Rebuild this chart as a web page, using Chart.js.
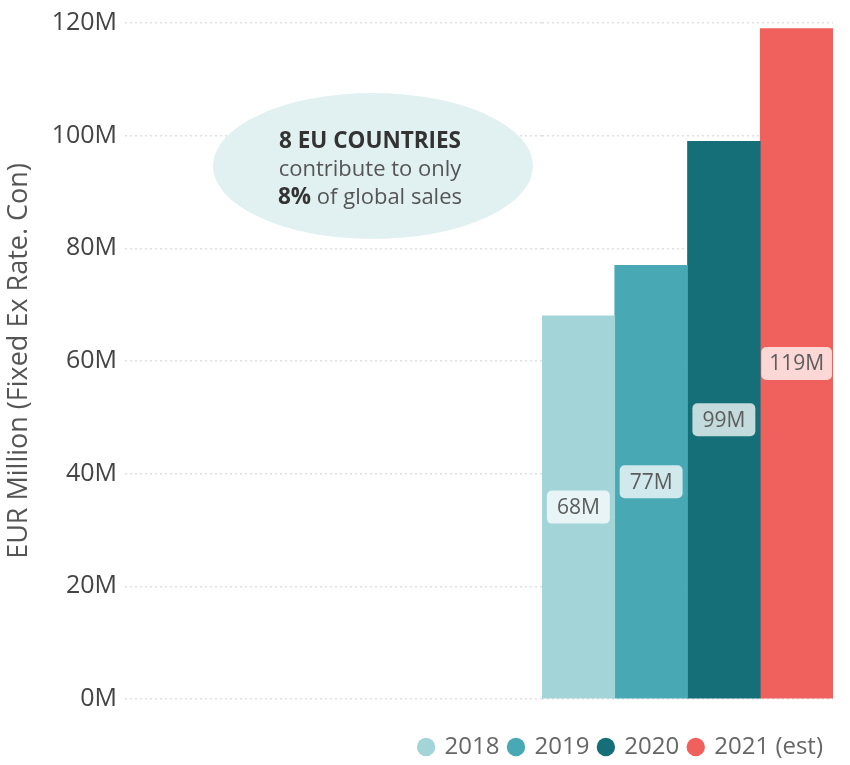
<!DOCTYPE html>
<html>
<head>
<meta charset="utf-8">
<script src="https://cdn.jsdelivr.net/npm/chart.js@4.4.1/dist/chart.umd.min.js"></script>
<style>
  html, body { margin: 0; padding: 0; background: #fff; }
  #wrap { width: 850px; height: 765px; position: relative; }
</style>
</head>
<body>
<div id="wrap"><canvas id="chart"></canvas></div>
<script>
// Sales by year, EUR million
const years = ['2018', '2019', '2020', '2021 (est)'];
const sales = [68, 77, 99, 119];
const yTicks = [0, 20, 40, 60, 80, 100, 120];
const colors = ['#a3d4d8', '#48a9b5', '#156f78', '#f0605c'];

const FONT = "'Open Sans', 'Noto Sans', sans-serif";
const gridColor = '#e0e0e0';

// one dataset per year so the legend lists each year
const datasets = years.map((y, i) => ({
  label: y,
  data: sales.map((v, j) => (j === i ? v : null)),
  backgroundColor: colors[i],
  borderWidth: 0,
  barPercentage: 1,
  categoryPercentage: 1
}));

// value boxes in the middle of each bar
const valueLabels = {
  id: 'valueLabels',
  afterDatasetsDraw(chart) {
    const ctx = chart.ctx;
    ctx.save();
    ctx.font = '21px ' + FONT;
    ctx.textAlign = 'center';
    ctx.textBaseline = 'middle';
    chart.data.datasets.forEach((ds, i) => {
      chart.getDatasetMeta(i).data.forEach((bar, j) => {
        const v = ds.data[j];
        if (v == null) return;
        const txt = v + 'M';
        const cy = (bar.y + bar.base) / 2;
        const w = Math.min(ctx.measureText(txt).width + 20, bar.width - 2);
        const h = 33;
        ctx.fillStyle = 'rgba(255,255,255,0.75)';
        ctx.beginPath();
        ctx.roundRect(bar.x - w / 2, cy - h / 2, w, h, 5);
        ctx.fill();
        ctx.fillStyle = '#5c5c5c';
        ctx.fillText(txt, bar.x, cy + 1);
      });
    });
    ctx.restore();
  }
};

// callout bubble
const callout = {
  id: 'callout',
  beforeDatasetsDraw(chart) {
    const ctx = chart.ctx;
    const cx = 373, cy = 166, tx = 370;
    const bold = 'bold 22.5px ' + FONT, reg = '22px ' + FONT;
    ctx.save();
    ctx.fillStyle = '#e1f1f1';
    ctx.beginPath();
    ctx.ellipse(cx, cy, 160, 73, 0, 0, Math.PI * 2);
    ctx.fill();
    ctx.textBaseline = 'middle';
    ctx.textAlign = 'center';
    ctx.fillStyle = '#333';
    ctx.font = bold;
    ctx.fillText('8 EU COUNTRIES', tx, 142);
    ctx.fillStyle = '#555';
    ctx.font = reg;
    ctx.fillText('contribute to only', tx, 170);
    // third line: bold percentage + regular text
    ctx.textAlign = 'left';
    const a = '8%', b = ' of global sales';
    ctx.font = bold;
    const wa = ctx.measureText(a).width;
    ctx.font = reg;
    const wb = ctx.measureText(b).width;
    const x = tx - (wa + wb) / 2;
    ctx.font = bold;
    ctx.fillStyle = '#333';
    ctx.fillText(a, x, 198);
    ctx.font = reg;
    ctx.fillStyle = '#555';
    ctx.fillText(b, x + wa, 198);
    ctx.restore();
  }
};

new Chart(document.getElementById('chart'), {
  type: 'bar',
  data: { labels: years, datasets },
  options: {
    responsive: true,
    maintainAspectRatio: false,
    animation: false,
    skipNull: true,
    layout: { padding: { top: 2, right: 17, bottom: -4, left: 0 } },
    plugins: {
      tooltip: { enabled: false },
      legend: {
        position: 'bottom',
        align: 'end',
        labels: {
          usePointStyle: true,
          pointStyle: 'circle',
          boxWidth: 13,
          boxHeight: 13,
          padding: 10,
          color: '#666',
          font: { family: FONT, size: 24 }
        }
      }
    },
    scales: {
      x: {
        display: true,
        ticks: { display: false },
        grid: { display: false },
        border: { display: false },
        afterFit(scale) {
          scale.height = 26;
        }
      },
      y: {
        min: 0,
        max: 120,
        afterBuildTicks(scale) {
          scale.ticks = yTicks.map(v => ({ value: v }));
        },
        // wide axis box: the tick marks run as dotted gridlines left of the bars
        afterFit(scale) {
          scale.width = 542;
        },
        border: { display: false, dash: [2, 3] },
        grid: {
          color: gridColor,
          lineWidth: 1.5,
          drawTicks: true,
          tickLength: 417,
          tickColor: gridColor,
          tickWidth: 1.5,
          tickBorderDash: [2, 3]
        },
        ticks: {
          padding: 8,
          color: '#444',
          font: { family: FONT, size: 25 },
          callback: v => v + 'M'
        },
        title: {
          display: true,
          text: 'EUR Million (Fixed Ex Rate. Con)',
          color: '#555',
          font: { family: FONT, size: 27 },
          padding: { top: 3, bottom: 4 }
        }
      }
    }
  },
  plugins: [callout, valueLabels]
});
</script>
</body>
</html>
